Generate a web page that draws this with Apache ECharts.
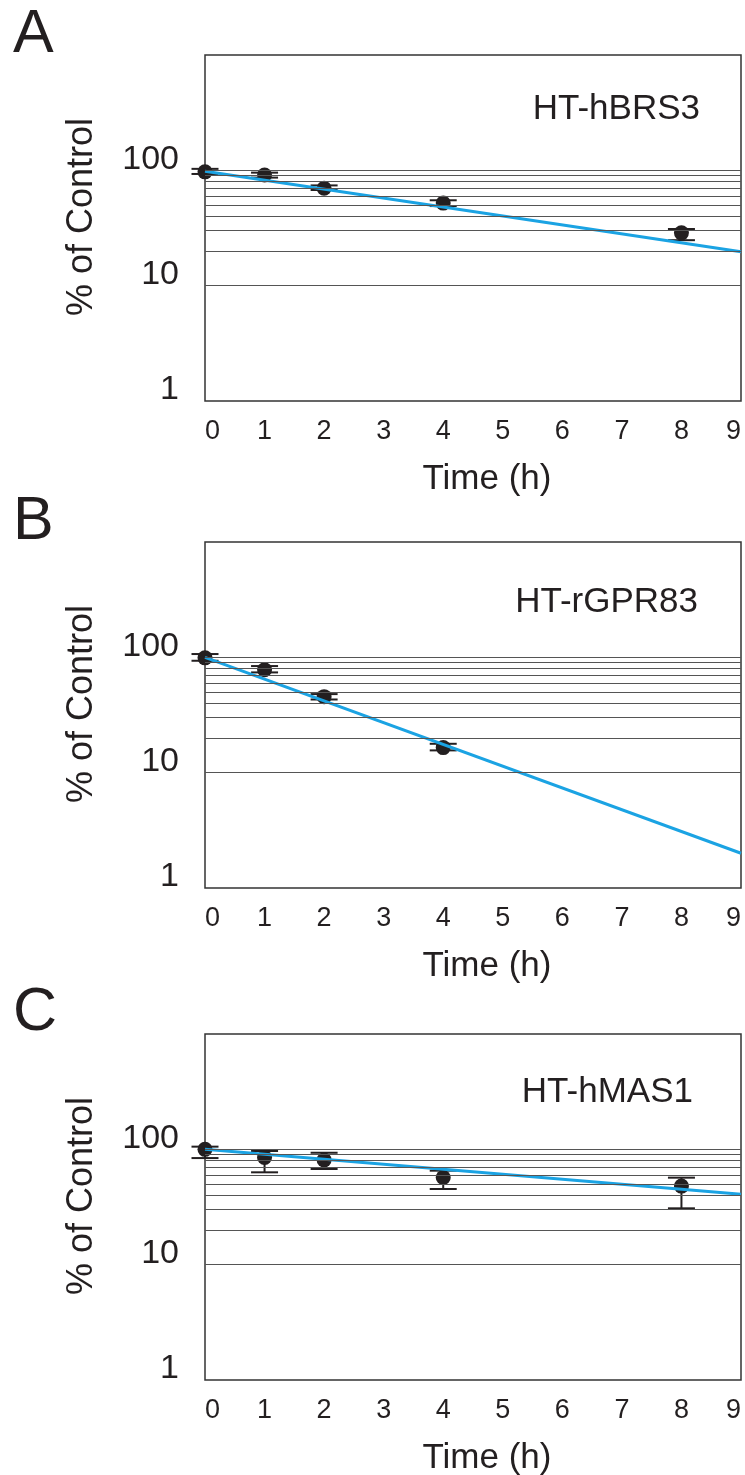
<!DOCTYPE html>
<html>
<head>
<meta charset="utf-8">
<script src="https://cdn.jsdelivr.net/npm/echarts@6/dist/echarts.min.js"></script>
<style>
  html, body { margin: 0; padding: 0; background: #fff; overflow: hidden; }
  #main { width: 745px; height: 1475px; }
</style>
</head>
<body>
<div id="main"></div>
<script>
// data
const hoursA = [0, 1, 2, 4, 8]
const meanA = [97, 91, 70, 52, 28.7]
const highA = [103, 95.5, 74, 55, 31]
const lowA = [93, 86.5, 67.5, 49, 24.8]
const fitA = [[0, 98], [9, 19.7]]

const hoursB = [0, 1, 2, 4]
const meanB = [99, 78, 45.6, 16.5]
const highB = [106.8, 84, 48, 17.8]
const lowB = [93.4, 74, 43.1, 15.6]
const fitB = [[0, 100], [9, 2.0]]

const hoursC = [0, 1, 2, 4, 8]
const meanC = [100, 85, 81, 57, 48]
const highC = [105.5, 96.7, 93.4, 65.3, 56.8]
const lowC = [84, 63.2, 67.5, 45.3, 30.8]
const fitC = [[0, 100], [9, 40.7]]

const panelLetters = ['A', 'B', 'C']
const constructNames = ['HT-hBRS3', 'HT-rGPR83', 'HT-hMAS1']
const gridValues = [10, 20, 30, 40, 50, 60, 70, 80, 90, 100]
const xTicks = [0, 1, 2, 3, 4, 5, 6, 7, 8, 9]

const font = '"Liberation Sans", Arial, sans-serif'
const ink = '#231f20'
const blue = '#1ba3e3'

const panels = [
  { hours: hoursA, mean: meanA, high: highA, low: lowA, fit: fitA, top: 55, letterTop: 5, nameTop: 92, nameRight: 45 },
  { hours: hoursB, mean: meanB, high: highB, low: lowB, fit: fitB, top: 542, letterTop: 492, nameTop: 585, nameRight: 47 },
  { hours: hoursC, mean: meanC, high: highC, low: lowC, fit: fitC, top: 1034, letterTop: 983, nameTop: 1075, nameRight: 52 },
]

const grid = []
const xAxis = []
const yAxis = []
const series = []
const title = []

panels.forEach((p, i) => {
  grid.push({
    left: 205, top: p.top, width: 536, height: 346,
    outerBoundsMode: 'none', containLabel: false,
    show: true, borderColor: '#333', borderWidth: 1.5, backgroundColor: 'transparent',
  })
  xAxis.push({
    type: 'value', gridIndex: i, min: 0, max: 9, interval: 1,
    axisLine: { show: false }, axisTick: { show: false }, splitLine: { show: false },
    axisLabel: {
      margin: 17, fontSize: 27, color: ink, fontFamily: font,
      alignMinLabel: 'left', alignMaxLabel: 'right',
      formatter: (v) => (xTicks.includes(v) ? String(v) : ''),
    },
    name: 'Time (h)', nameLocation: 'middle', nameGap: 61,
    nameTextStyle: { fontSize: 35, color: ink, fontFamily: font, padding: [0, 0, 0, 28] },
  })
  yAxis.push({
    type: 'log', logBase: 10, gridIndex: i, min: 1, max: 1000,
    axisLine: { show: false }, axisTick: { show: false }, splitLine: { show: false },
    axisLabel: {
      margin: 26, fontSize: 34, color: ink, fontFamily: font,
      verticalAlign: 'bottom', lineHeight: 22,
      formatter: (v) => (v >= 1000 ? '' : String(v)),
    },
    name: '% of Control', nameLocation: 'middle', nameGap: 105,
    nameTextStyle: { fontSize: 36, color: ink, fontFamily: font, padding: [0, 0, 0, 22] },
  })
  title.push({
    text: panelLetters[i], left: 13, top: p.letterTop, padding: 0,
    textStyle: { fontSize: 61, fontWeight: 'normal', color: ink, fontFamily: font },
  })
  title.push({
    text: constructNames[i], right: p.nameRight, top: p.nameTop, padding: 0,
    textStyle: { fontSize: 35, fontWeight: 'normal', color: ink, fontFamily: font },
  })

  // horizontal guide lines 10..100
  series.push({
    type: 'line', xAxisIndex: i, yAxisIndex: i, data: [], z: 1, silent: true,
    markLine: {
      symbol: 'none', silent: true, animation: false,
      label: { show: false },
      lineStyle: { color: '#555', width: 1, type: 'solid' },
      data: gridValues.map((v) => ({ yAxis: v })),
    },
  })
  // error bars
  series.push({
    type: 'custom', xAxisIndex: i, yAxisIndex: i, z: 2, clip: false, silent: true,
    data: p.hours.map((h, k) => [h, p.high[k], p.low[k]]),
    renderItem: (params, api) => {
      const x = api.value(0)
      const hi = api.coord([x, api.value(1)])
      const lo = api.coord([x, api.value(2)])
      const w = 13.5
      const style = { stroke: ink, lineWidth: 2 }
      return {
        type: 'group',
        children: [
          { type: 'line', shape: { x1: hi[0], y1: hi[1], x2: lo[0], y2: lo[1] }, style },
          { type: 'line', shape: { x1: hi[0] - w, y1: hi[1], x2: hi[0] + w, y2: hi[1] }, style },
          { type: 'line', shape: { x1: lo[0] - w, y1: lo[1], x2: lo[0] + w, y2: lo[1] }, style },
        ],
      }
    },
  })
  // means
  series.push({
    type: 'scatter', xAxisIndex: i, yAxisIndex: i, z: 3, clip: false,
    symbol: 'circle', symbolSize: 15,
    itemStyle: { color: ink, opacity: 1 },
    data: p.hours.map((h, k) => [h, p.mean[k]]),
  })
  // fitted decay
  series.push({
    type: 'line', xAxisIndex: i, yAxisIndex: i, z: 4, clip: false,
    showSymbol: false, symbol: 'none',
    lineStyle: { color: blue, width: 3 },
    data: p.fit,
  })
})

const chart = echarts.init(document.getElementById('main'), null, { renderer: 'canvas' })
chart.setOption({
  backgroundColor: '#fff',
  animation: false,
  title,
  grid,
  xAxis,
  yAxis,
  series,
})
</script>
</body>
</html>
